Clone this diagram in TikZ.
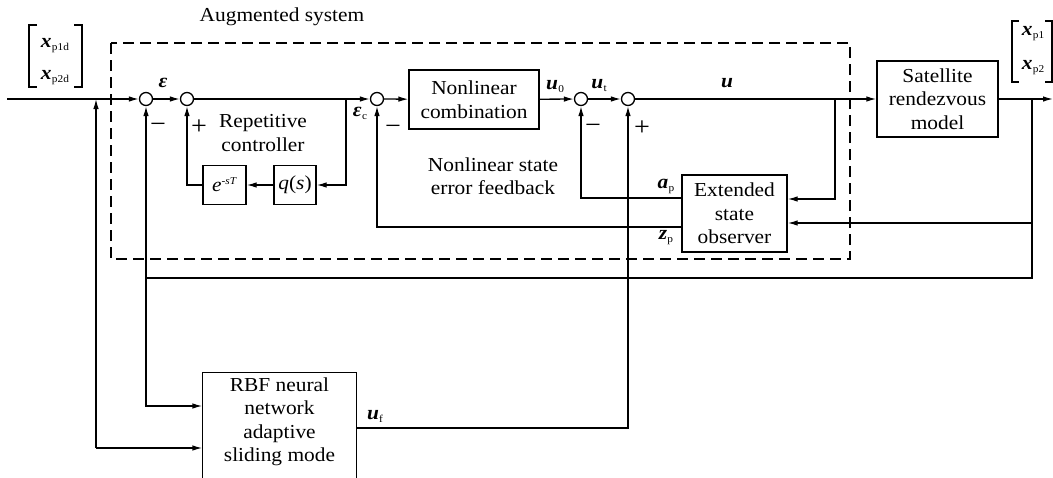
\documentclass[tikz,border=0pt]{standalone}
\usepackage{fontspec}
\setmainfont{Liberation Serif}[FakeStretch=1.08]
\usetikzlibrary{arrows.meta,calc}
\newcommand\bv[2]{\textbf{\textit{#1}}\kern0.3pt\raisebox{-3pt}{\fontsize{10.5}{10.5}\selectfont #2}}
\begin{document}
\begin{tikzpicture}[x=1pt,y=-1pt,
  line width=1.3pt,
  >={Latex[length=10pt,width=5.5pt]},
  every node/.style={font=\fontsize{19.8}{23.5}\selectfont},
  blk/.style={draw, line width=1.3pt, inner sep=0pt, align=center},
  sumc/.style={draw, circle, minimum size=13pt, inner sep=0pt, fill=white},
  arr/.style={->},
  lab/.style={inner sep=0pt},
  sign/.style={font=\fontsize{26}{26}\selectfont, inner sep=0pt}]
\useasboundingbox (0,0) rectangle (1053,477);
\clip (0,0) rectangle (1053,477);

% dashed augmented system
\draw[dashed, dash pattern=on 11pt off 6pt] (111,43) rectangle (850,259);
\node[lab] (aug) at (282,17) {Augmented system};

% blocks
\node[sumc] (c1) at (146,99) {};
\node[sumc] (c2) at (187,99) {};
\node[sumc] (c3) at (377,99) {};
\node[sumc] (c4) at (581,99) {};
\node[sumc] (c5) at (628,99) {};
\node[blk, minimum width=130pt, minimum height=59pt] (nlc) at (474,99.5) {Nonlinear\\combination};
\node[blk, minimum width=43pt, minimum height=39pt] (eb) at (224.5,185) {\textit{e}\raisebox{7pt}{\fontsize{10.5}{10.5}\selectfont -\textit{sT}}};
\node[blk, minimum width=42pt, minimum height=39pt] (qb) at (295,185) {\textit{q}(\textit{s})};
\node[blk, minimum width=121pt, minimum height=76pt] (sat) at (937.5,99) {Satellite\\rendezvous\\model};
\node[blk, minimum width=105pt, minimum height=77pt] (eso) at (734.5,213.5) {Extended\\state\\observer};
\node[inner sep=0pt, align=center, minimum width=153pt, minimum height=98pt] (rbf) at (279.5,422) {RBF neural\\network\\adaptive\\sliding mode};
\draw ([yshift=-12pt]rbf.south west) -- (rbf.north west) -- (rbf.north east) -- ([yshift=-12pt]rbf.south east);

% text
\node[lab, align=center] (rep) at (263,133) {Repetitive\\controller};
\node[lab, align=center] (nsef) at (493,176) {Nonlinear state\\error feedback};

% coordinates
\coordinate (in) at (7,99);
\coordinate (j0) at (96,99);
\coordinate (k0) at (96,448);
\coordinate (j1) at (346,99);
\coordinate (j2) at (835,99);
\coordinate (j3) at (1032,99);
\coordinate (out) at (1053,99);
\coordinate (fb) at (146,278);
\coordinate (j4) at (1032,223);

% connectors
\draw[arr] (in) -- (c1);
\draw[arr] (c1) -- (c2);
\draw[arr] (c2) -- (c3);
\draw[arr] (c3) -- (nlc);
\draw[arr] (nlc) -- (c4);
\draw[arr] (c4) -- (c5);
\draw[arr] (c5) -- (sat);
\draw[arr] (sat) -- (out);
\draw[arr] (j1) |- (qb);
\draw[arr] (qb) -- (eb);
\draw[arr] (eb) -| (c2);
\draw[arr] (j2) |- ([yshift=14.5pt]eso.east);
\draw[arr] (j4) -- ([yshift=-9.5pt]eso.east);
\draw (j3) |- (fb);
\draw[arr] (fb) -- (c1);
\draw[arr] (fb) |- ([yshift=16pt]rbf.west);
\draw[arr] ([yshift=15.5pt]eso.west) -| (c4);
\draw[arr] ([yshift=-13.5pt]eso.west) -| (c3);
\draw[arr] ([yshift=-6pt]rbf.east) -| (c5);
\draw[arr] (k0) -- (j0);
\draw[arr] (k0) -- ([yshift=-26pt]rbf.west);

% signal labels
\node[lab] (le) at (163,83) {\textbf{\textit{ε}}};
\node[lab] (lec) at (360,113) {\bv{ε}{c}};
\node[lab] (lu0) at (555,87) {\bv{u}{0}};
\node[lab] (lut) at (599,86) {\bv{u}{t}};
\node[lab] (lu) at (727,83) {\textbf{\textit{u}}};
\node[lab] (lap) at (666,186) {\bv{a}{p}};
\node[lab] (lzp) at (666,238) {\bv{z}{p}};
\node[lab] (luf) at (375,416) {\bv{u}{f}};

% signs
\node[sign] (s1) at (158,128) {−};
\node[sign] (s2) at (199,127) {+};
\node[sign] (s3) at (393,130) {−};
\node[sign] (s4) at (593,129) {−};
\node[sign] (s5) at (642,128) {+};

% vectors
\node[lab] (xd1) at (55,46) {\bv{x}{p1d}};
\node[lab] (xd2) at (55,78) {\bv{x}{p2d}};
\draw (37,25) -| (29,87) -- (37,87);
\draw (74,25) -| (82,87) -- (74,87);
\node[lab] (x1) at (1033,34) {\bv{x}{p1}};
\node[lab] (x2) at (1033,68) {\bv{x}{p2}};
\draw (1019,21) -| (1012,82) -- (1019,82);
\draw (1045,21) -| (1052,82) -- (1045,82);
\end{tikzpicture}
\end{document}
